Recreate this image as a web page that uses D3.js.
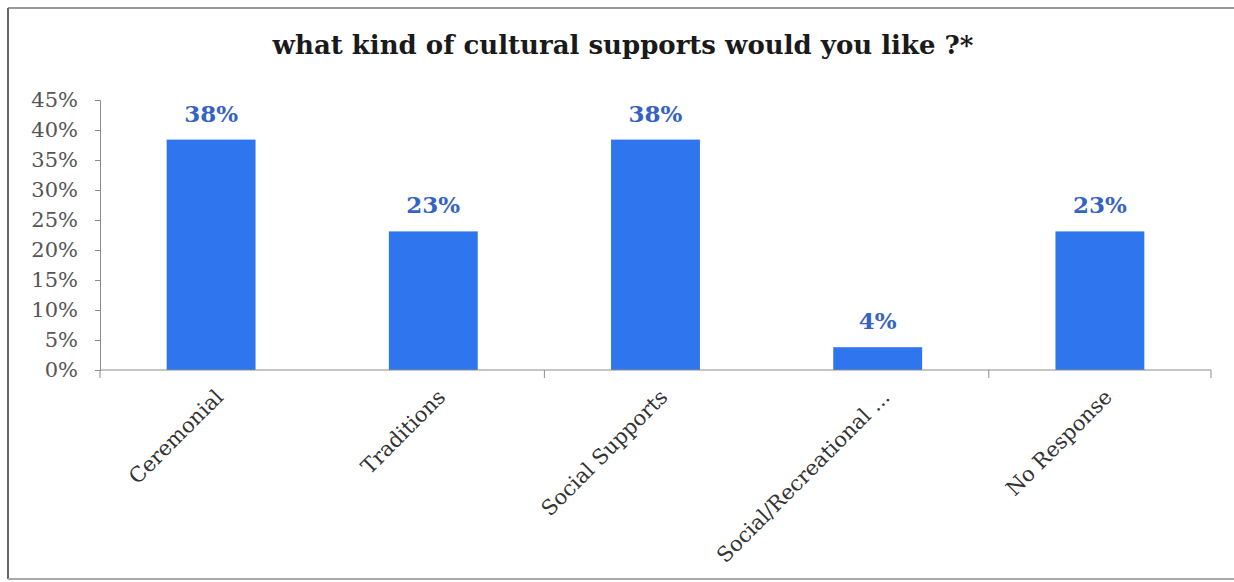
<!DOCTYPE html>
<html>
<head>
<meta charset="utf-8">
<script src="https://cdn.jsdelivr.net/npm/d3@7"></script>
<style>
  html, body { margin: 0; padding: 0; background: #fff; }
  svg { display: block; }
</style>
</head>
<body>
<svg id="chart" width="1234" height="582"></svg>
<script>
// Survey answers: share of respondents per kind of cultural support
const categories = ["Ceremonial", "Traditions", "Social Supports", "Social/Recreational ...", "No Response"];
const shares = [0.384, 0.231, 0.384, 0.038, 0.231];
const yTicks = [0, 0.05, 0.10, 0.15, 0.20, 0.25, 0.30, 0.35, 0.40, 0.45];
const titleText = "what kind of cultural supports would you like ?*";

const svg = d3.select("#chart");
const W = 1234, H = 582;
const plot = { left: 100, right: 1211, top: 100, bottom: 370 };

// chart frame
svg.append("rect").attr("x", 0).attr("y", 0).attr("width", W).attr("height", H).attr("fill", "#fff");
svg.append("line").attr("x1", 8).attr("x2", 1234).attr("y1", 8).attr("y2", 8)
  .attr("stroke", "#9a9a9a").attr("stroke-width", 2);
svg.append("line").attr("x1", 8).attr("x2", 8).attr("y1", 8).attr("y2", 579)
  .attr("stroke", "#666").attr("stroke-width", 2);
svg.append("line").attr("x1", 8).attr("x2", 1234).attr("y1", 579).attr("y2", 579)
  .attr("stroke", "#aaa").attr("stroke-width", 2);

const serif = "'DejaVu Serif', 'Liberation Serif', serif";

svg.append("text")
  .attr("x", 623).attr("y", 54)
  .attr("text-anchor", "middle")
  .attr("font-family", serif)
  .attr("font-weight", "bold")
  .attr("font-size", 26)
  .attr("fill", "#1a1a1a")
  .text(titleText);

const x = d3.scaleBand().domain(categories).range([plot.left, plot.right]).paddingInner(0.6).paddingOuter(0.3);
const y = d3.scaleLinear().domain([0, 0.45]).range([plot.bottom, plot.top]);

// y axis
const yAxis = svg.append("g")
  .attr("transform", `translate(${plot.left},0)`)
  .call(d3.axisLeft(y).tickValues(yTicks).tickFormat(d3.format(".0%")).tickSize(5).tickPadding(17));
yAxis.select(".domain").attr("stroke", "#8c8c8c");
yAxis.selectAll(".tick line").attr("stroke", "#8c8c8c");
yAxis.selectAll(".tick text")
  .attr("font-family", serif).attr("font-size", 21).attr("fill", "#555");

// bars
svg.append("g").selectAll("rect")
  .data(categories)
  .join("rect")
  .attr("x", d => x(d))
  .attr("width", x.bandwidth())
  .attr("y", (d, i) => y(shares[i]))
  .attr("height", (d, i) => y(0) - y(shares[i]))
  .attr("fill", "#2f76ee");

// value labels
svg.append("g").selectAll("text")
  .data(categories)
  .join("text")
  .attr("x", d => x(d) + x.bandwidth() / 2)
  .attr("y", (d, i) => y(shares[i]) - 18)
  .attr("text-anchor", "middle")
  .attr("font-family", serif)
  .attr("font-weight", "bold")
  .attr("font-size", 23)
  .attr("fill", "#3563c4")
  .text((d, i) => d3.format(".0%")(shares[i]));

// x axis: baseline with tick marks at every other category boundary
const xAxisG = svg.append("g");
xAxisG.append("line")
  .attr("x1", plot.left).attr("x2", plot.right)
  .attr("y1", plot.bottom).attr("y2", plot.bottom)
  .attr("stroke", "#8c8c8c");
const boundaries = d3.range(0, categories.length + 1, 2).map(i => plot.left + i * (plot.right - plot.left) / categories.length);
xAxisG.selectAll("line.tk")
  .data(boundaries.concat([plot.right]))
  .join("line")
  .attr("class", "tk")
  .attr("x1", d => d).attr("x2", d => d)
  .attr("y1", plot.bottom).attr("y2", plot.bottom + 8)
  .attr("stroke", "#8c8c8c");

// rotated category labels
xAxisG.selectAll("text")
  .data(categories)
  .join("text")
  .attr("transform", d => `translate(${x(d) + x.bandwidth() / 2 + 3},${plot.bottom + 18}) rotate(-45)`)
  .attr("text-anchor", "end")
  .attr("dy", "0.7em")
  .attr("font-family", serif)
  .attr("font-size", 21)
  .attr("fill", "#333")
  .text(d => d);
</script>
</body>
</html>
